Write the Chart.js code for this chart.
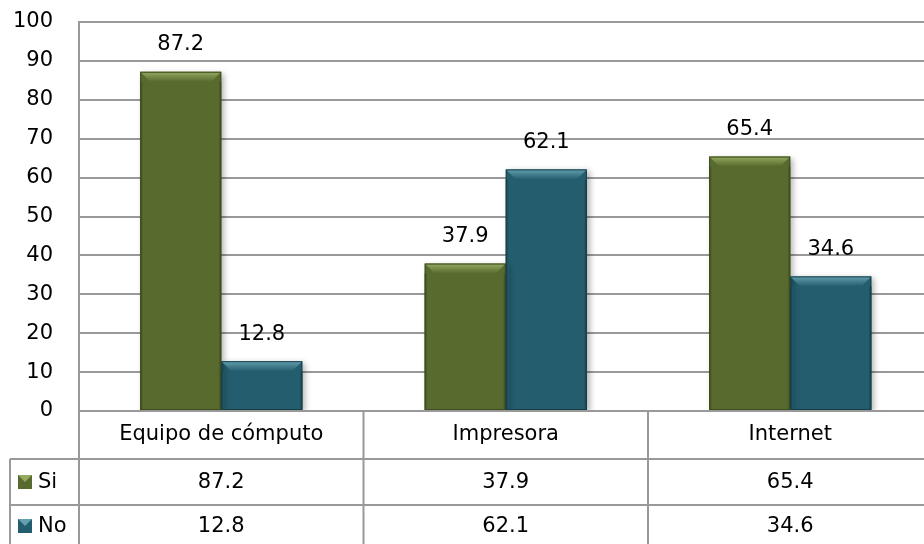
<!DOCTYPE html>
<html>
<head>
<meta charset="utf-8">
<script src="https://cdn.jsdelivr.net/npm/chart.js@4/dist/chart.umd.min.js"></script>
<style>
  html, body { margin: 0; padding: 0; background: #fff; overflow: hidden; }
</style>
</head>
<body>
<canvas id="chart" width="940" height="544"></canvas>
<script>
const categories = ['Equipo de cómputo', 'Impresora', 'Internet'];
const seriesNames = ['Si', 'No'];
const siValues = [87.2, 37.9, 65.4];
const noValues = [12.8, 62.1, 34.6];
const yMin = 0, yMax = 100, yStep = 10;

const FONT = '"DejaVu Sans", sans-serif';
const FSIZE = 21;
const green = { fill: '#586a2e', light: '#94aa60', dark: '#3d4b1e' };
const teal = { fill: '#245d6d', light: '#64a0b0', dark: '#173f4b' };
const gridColor = '#999999';

// bevel + shadow look of the excel bars, drawn on the bar elements
const barStyle = {
  id: 'barStyle',
  beforeDatasetsDraw(chart) {
    const ctx = chart.ctx;
    ctx.save();
    ctx.shadowColor = 'rgba(0,0,0,0.3)';
    ctx.shadowBlur = 6;
    ctx.shadowOffsetX = 3;
    ctx.shadowOffsetY = 2;
  },
  afterDatasetsDraw(chart) {
    const ctx = chart.ctx;
    ctx.restore();
    const pal = [green, teal];
    chart.data.datasets.forEach((ds, di) => {
      const meta = chart.getDatasetMeta(di);
      const c = pal[di];
      meta.data.forEach((bar, i) => {
        const l = bar.x - bar.width / 2, r = bar.x + bar.width / 2;
        const t = bar.y, b = bar.base;
        const bv = 10, sd = 3;
        ctx.save();
        // top bevel
        let g = ctx.createLinearGradient(0, t, 0, t + bv);
        g.addColorStop(0, c.light);
        g.addColorStop(1, c.fill);
        ctx.fillStyle = g;
        ctx.beginPath();
        ctx.moveTo(l, t); ctx.lineTo(r, t); ctx.lineTo(r - bv, t + bv); ctx.lineTo(l + bv, t + bv);
        ctx.closePath(); ctx.fill();
        // sides a bit darker
        g = ctx.createLinearGradient(r - sd, 0, r, 0);
        g.addColorStop(0, c.fill);
        g.addColorStop(1, c.dark);
        ctx.fillStyle = g;
        ctx.fillRect(r - sd, t + bv, sd, b - t - bv);
        g = ctx.createLinearGradient(l, 0, l + sd, 0);
        g.addColorStop(0, c.dark);
        g.addColorStop(1, c.fill);
        ctx.fillStyle = g;
        ctx.fillRect(l, t + bv, sd, b - t - bv);
        ctx.strokeStyle = c.dark;
        ctx.lineWidth = 1;
        ctx.strokeRect(l + 0.5, t + 0.5, r - l - 1, b - t - 1);
        ctx.restore();
        // value label
        ctx.save();
        ctx.fillStyle = '#000';
        ctx.font = FSIZE + 'px ' + FONT;
        ctx.textAlign = 'center';
        ctx.textBaseline = 'middle';
        ctx.fillText(ds.data[i].toFixed(1), bar.x, bar.y - 27);
        ctx.restore();
      });
    });
  }
};

// data table underneath the plot
const dataTable = {
  id: 'dataTable',
  afterDraw(chart) {
    const ctx = chart.ctx;
    const xs = chart.scales.x;
    const area = chart.chartArea;
    const half = (xs.getPixelForValue(1) - xs.getPixelForValue(0)) / 2;
    const top = area.bottom;
    const row1 = top + 48, row2 = row1 + 46, bottom = row2 + 46;
    const legLeft = 10;
    ctx.save();
    ctx.strokeStyle = gridColor;
    ctx.lineWidth = 2;
    ctx.beginPath();
    ctx.moveTo(area.left, top); ctx.lineTo(chart.width, top);
    ctx.moveTo(legLeft, row1); ctx.lineTo(chart.width, row1);
    ctx.moveTo(legLeft, row2); ctx.lineTo(chart.width, row2);
    ctx.moveTo(legLeft, bottom); ctx.lineTo(chart.width, bottom);
    ctx.moveTo(area.left, top); ctx.lineTo(area.left, bottom);
    ctx.moveTo(legLeft, row1); ctx.lineTo(legLeft, bottom);
    categories.forEach((c, i) => {
      const xr = xs.getPixelForValue(i) + half;
      ctx.moveTo(xr, top); ctx.lineTo(xr, bottom);
    });
    ctx.stroke();

    ctx.fillStyle = '#000';
    ctx.font = FSIZE + 'px ' + FONT;
    ctx.textAlign = 'center';
    ctx.textBaseline = 'middle';
    categories.forEach((c, i) => {
      const cx = xs.getPixelForValue(i);
      ctx.fillText(c, cx, (top + row1) / 2);
      ctx.fillText(siValues[i].toFixed(1), cx, (row1 + row2) / 2 + 1);
      ctx.fillText(noValues[i].toFixed(1), cx, (row2 + bottom) / 2 - 1);
    });
    // legend keys
    const pal = [green, teal];
    seriesNames.forEach((s, k) => {
      const cy = k === 0 ? (row1 + row2) / 2 : (row2 + bottom) / 2 - 2;
      const c = pal[k];
      const kx = 18, ks = 14, ky = cy - ks / 2;
      ctx.fillStyle = c.fill;
      ctx.fillRect(kx, ky, ks, ks);
      ctx.fillStyle = c.light;
      ctx.beginPath();
      ctx.moveTo(kx, ky); ctx.lineTo(kx + ks, ky); ctx.lineTo(kx + ks / 2, ky + ks / 2);
      ctx.closePath(); ctx.fill();
      ctx.textAlign = 'left';
      ctx.fillStyle = '#000';
      ctx.fillText(s, 38, cy + 1);
    });
    ctx.restore();
  }
};

new Chart(document.getElementById('chart'), {
  type: 'bar',
  data: {
    labels: categories,
    datasets: [
      { label: seriesNames[0], data: siValues, backgroundColor: green.fill, borderWidth: 0 },
      { label: seriesNames[1], data: noValues, backgroundColor: teal.fill, borderWidth: 0 }
    ]
  },
  options: {
    responsive: false,
    animation: false,
    layout: { padding: { top: 22, left: 0, right: 7.5, bottom: 0 } },
    datasets: { bar: { categoryPercentage: 0.57, barPercentage: 1 } },
    scales: {
      x: {
        ticks: { display: false },
        grid: { display: false },
        border: { display: false },
        afterFit(scale) { scale.height = 133; }
      },
      y: {
        min: yMin,
        max: yMax,
        ticks: { stepSize: yStep, padding: 0, color: '#000', font: { family: FONT, size: FSIZE } },
        // invisible tick marks just push the labels away from the axis
        grid: { color: gridColor, lineWidth: 2, drawTicks: true, tickLength: 26, tickColor: 'rgba(0,0,0,0)' },
        border: { display: true, color: gridColor, width: 2 },
        afterFit(scale) { scale.width = 79; }
      }
    },
    plugins: {
      legend: { display: false },
      tooltip: { enabled: false }
    }
  },
  plugins: [barStyle, dataTable]
});
</script>
</body>
</html>
